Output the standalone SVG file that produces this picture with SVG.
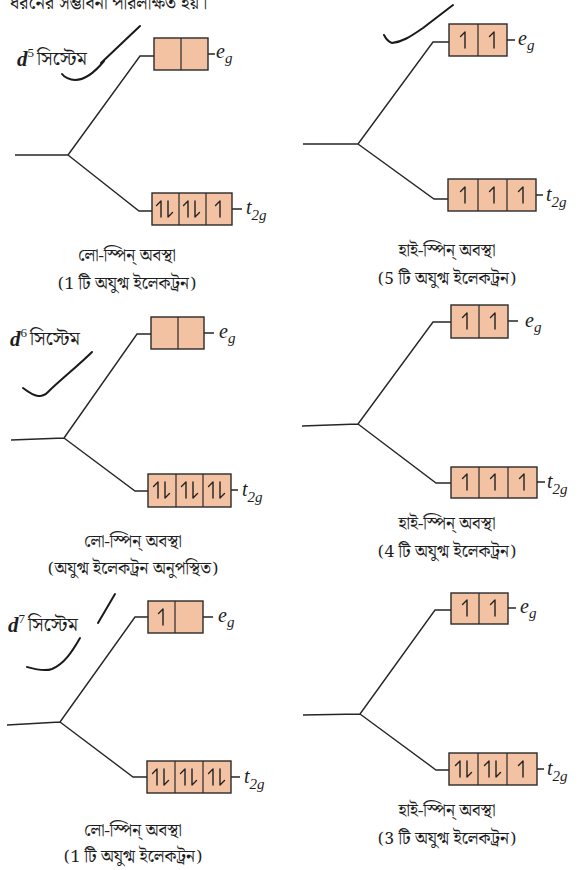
<svg xmlns="http://www.w3.org/2000/svg" xmlns:xlink="http://www.w3.org/1999/xlink" width="587" height="870" viewBox="0 0 587 870">
<style>
.bn{font-family:"Noto Serif Bengali","Noto Sans Bengali","Lohit Bengali","Liberation Serif",serif;fill:#1e1e1e}
.cap{font-size:17px;text-anchor:middle}
.lbl{font-family:"Liberation Serif","DejaVu Serif",serif;font-style:italic;fill:#1e1e1e}
.sys{font-size:21px}
.box{fill:#f3c2a2;stroke:#2a2a2a;stroke-width:1.4}
.div{stroke:#2a2a2a;stroke-width:1.2}
.ln{fill:none;stroke:#262626;stroke-width:1.4}
.e{fill:none;stroke:#222;stroke-width:1.4;stroke-linecap:round;stroke-linejoin:round}
.pen{fill:none;stroke:#1a1a1a;stroke-width:2;stroke-linecap:round;stroke-linejoin:round}
</style>
<defs>
<path id="up" class="e" d="M0,8 V-8 L-4.5,-3.5"/>
<path id="dn" class="e" d="M0,-8 V8 L4.5,3.5"/>
</defs>
<rect width="587" height="870" fill="#ffffff"/>
<text class="bn" x="10" y="9" font-size="18">ধরনের সম্ভাবনা পরিলক্ষিত হয়।</text>

<g id="connectors">
<path class="ln" d="M15,155 L68,155 M68,155 L140,56 L154,56 M68,155 L139,211 L152,211 M208,54 H215 M232,209 H242"/>
<path class="ln" d="M303,144 L358,144 M358,144 L433,42 L449,42 M358,144 L434,199 L448,199 M507,40 H515 M536,195 H543"/>
<path class="ln" d="M11,440 L64,438 M64,438 L137,334 L151,334 M64,438 L135,491 L148,491 M204,333 H214 M231,490 H238"/>
<path class="ln" d="M302,426 L358,424 M358,424 L433,322 L451,322 M358,424 L436,483 L451,483 M508,321 H518 M537,482 H545"/>
<path class="ln" d="M7,725 L60,722 M60,722 L135,617 L148,617 M60,722 L133,777 L147,777 M203,617 H213 M231,777 H240"/>
<path class="ln" d="M303,715 L360,714 M360,714 L435,610 L451,610 M360,714 L436,770 L449,770 M508,608 H516 M537,769 H544"/>
</g>

<g id="d5-low">
<text class="lbl sys" x="17" y="66" font-weight="bold">d<tspan font-size="13" dy="-9" font-style="normal" font-weight="normal">5</tspan></text>
<text class="bn" x="37" y="65" font-size="19">সিস্টেম</text>
<rect class="box" x="154" y="38" width="54" height="32"/>
<line class="div" x1="181" y1="38" x2="181" y2="70"/>
<text class="lbl" x="216" y="58" font-size="20">e<tspan font-size="15" dy="5">g</tspan></text>
<rect class="box" x="152" y="193" width="80" height="32"/>
<line class="div" x1="179" y1="193" x2="179" y2="225"/>
<line class="div" x1="206" y1="193" x2="206" y2="225"/>
<use href="#up" x="161" y="209"/><use href="#dn" x="168" y="209"/>
<use href="#up" x="188" y="209"/><use href="#dn" x="195" y="209"/>
<use href="#up" x="220" y="209"/>
<text class="lbl" x="246" y="214" font-size="20">t<tspan font-size="15" dy="6">2g</tspan></text>
<text class="bn cap" x="127" y="261">লো-স্পিন্ অবস্থা</text>
<text class="bn cap" x="127" y="289">(1 টি অযুগ্ম ইলেকট্রন)</text>
</g>

<g id="d5-high">
<rect class="box" x="449" y="24" width="58" height="32"/>
<line class="div" x1="478" y1="24" x2="478" y2="56"/>
<use href="#up" x="465" y="40"/><use href="#up" x="494" y="40"/>
<text class="lbl" x="518" y="45" font-size="20">e<tspan font-size="15" dy="5">g</tspan></text>
<rect class="box" x="448" y="179" width="88" height="32"/>
<line class="div" x1="478" y1="179" x2="478" y2="211"/>
<line class="div" x1="507" y1="179" x2="507" y2="211"/>
<use href="#up" x="465" y="195"/><use href="#up" x="494" y="195"/><use href="#up" x="523" y="195"/>
<text class="lbl" x="546" y="201" font-size="20">t<tspan font-size="15" dy="6">2g</tspan></text>
<text class="bn cap" x="447" y="256">হাই-স্পিন্ অবস্থা</text>
<text class="bn cap" x="447" y="284">(5 টি অযুগ্ম ইলেকট্রন)</text>
</g>

<g id="d6-low">
<text class="lbl sys" x="10" y="346" font-weight="bold">d<tspan font-size="13" dy="-9" font-style="normal" font-weight="normal">6</tspan></text>
<text class="bn" x="30" y="345" font-size="19">সিস্টেম</text>
<rect class="box" x="151" y="317" width="53" height="32"/>
<line class="div" x1="178" y1="317" x2="178" y2="349"/>
<text class="lbl" x="219" y="338" font-size="20">e<tspan font-size="15" dy="5">g</tspan></text>
<rect class="box" x="148" y="474" width="83" height="33"/>
<line class="div" x1="176" y1="474" x2="176" y2="507"/>
<line class="div" x1="203" y1="474" x2="203" y2="507"/>
<use href="#up" x="158" y="490"/><use href="#dn" x="165" y="490"/>
<use href="#up" x="186" y="490"/><use href="#dn" x="193" y="490"/>
<use href="#up" x="213" y="490"/><use href="#dn" x="220" y="490"/>
<text class="lbl" x="242" y="496" font-size="20">t<tspan font-size="15" dy="6">2g</tspan></text>
<text class="bn cap" x="133" y="547">লো-স্পিন্ অবস্থা</text>
<text class="bn cap" x="133" y="574">(অযুগ্ম ইলেকট্রন অনুপস্থিত)</text>
</g>

<g id="d6-high">
<rect class="box" x="451" y="305" width="57" height="33"/>
<line class="div" x1="479" y1="305" x2="479" y2="338"/>
<use href="#up" x="467" y="321"/><use href="#up" x="495" y="321"/>
<text class="lbl" x="525" y="327" font-size="20">e<tspan font-size="15" dy="5">g</tspan></text>
<rect class="box" x="451" y="467" width="86" height="31"/>
<line class="div" x1="479" y1="467" x2="479" y2="498"/>
<line class="div" x1="508" y1="467" x2="508" y2="498"/>
<use href="#up" x="467" y="482"/><use href="#up" x="495" y="482"/><use href="#up" x="524" y="482"/>
<text class="lbl" x="547" y="488" font-size="20">t<tspan font-size="15" dy="6">2g</tspan></text>
<text class="bn cap" x="447" y="529">হাই-স্পিন্ অবস্থা</text>
<text class="bn cap" x="447" y="557">(4 টি অযুগ্ম ইলেকট্রন)</text>
</g>

<g id="d7-low">
<text class="lbl sys" x="8" y="632" font-weight="bold">d<tspan font-size="13" dy="-9" font-style="normal" font-weight="normal">7</tspan></text>
<text class="bn" x="28" y="631" font-size="19">সিস্টেম</text>
<rect class="box" x="148" y="601" width="55" height="32"/>
<line class="div" x1="175" y1="601" x2="175" y2="633"/>
<use href="#up" x="163" y="617"/>
<text class="lbl" x="218" y="622" font-size="20">e<tspan font-size="15" dy="5">g</tspan></text>
<rect class="box" x="147" y="761" width="84" height="32"/>
<line class="div" x1="175" y1="761" x2="175" y2="793"/>
<line class="div" x1="203" y1="761" x2="203" y2="793"/>
<use href="#up" x="157" y="777"/><use href="#dn" x="164" y="777"/>
<use href="#up" x="185" y="777"/><use href="#dn" x="192" y="777"/>
<use href="#up" x="213" y="777"/><use href="#dn" x="220" y="777"/>
<text class="lbl" x="244" y="783" font-size="20">t<tspan font-size="15" dy="6">2g</tspan></text>
<text class="bn cap" x="133" y="836">লো-স্পিন্ অবস্থা</text>
<text class="bn cap" x="133" y="862">(1 টি অযুগ্ম ইলেকট্রন)</text>
</g>

<g id="d7-high">
<rect class="box" x="451" y="593" width="57" height="31"/>
<line class="div" x1="479" y1="593" x2="479" y2="624"/>
<use href="#up" x="467" y="608"/><use href="#up" x="495" y="608"/>
<text class="lbl" x="520" y="613" font-size="20">e<tspan font-size="15" dy="5">g</tspan></text>
<rect class="box" x="449" y="753" width="88" height="32"/>
<line class="div" x1="478" y1="753" x2="478" y2="785"/>
<line class="div" x1="507" y1="753" x2="507" y2="785"/>
<use href="#up" x="460" y="769"/><use href="#dn" x="467" y="769"/>
<use href="#up" x="489" y="769"/><use href="#dn" x="496" y="769"/>
<use href="#up" x="523" y="769"/>
<text class="lbl" x="547" y="775" font-size="20">t<tspan font-size="15" dy="6">2g</tspan></text>
<text class="bn cap" x="447" y="816">হাই-স্পিন্ অবস্থা</text>
<text class="bn cap" x="447" y="844">(3 টি অযুগ্ম ইলেকট্রন)</text>
</g>

<g id="pen-marks">
<path class="pen" d="M140,26 L101,63 M104,61 C95,72 85,80 75,80 C70,80 64,77 62,74"/>
<path class="pen" d="M453,5 L423,28 C410,37 402,42 392,43 C389,42 386,39 384,35"/>
<path class="pen" d="M92,352 C78,366 60,380 48,392 C42,398 36,398 23,388"/>
<path class="pen" d="M115,594 L98,623 M80,638 C72,652 64,664 52,669 C44,672 34,669 27,667"/>
</g>
</svg>
